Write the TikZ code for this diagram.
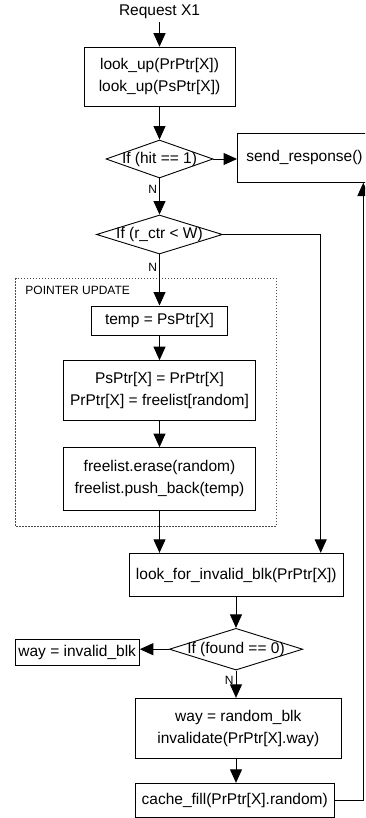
\documentclass[tikz,border=0pt]{standalone}
\usepackage{fontspec}
\setmainfont{Liberation Sans}
\usetikzlibrary{calc,arrows.meta,shapes.geometric}
\tikzset{
  blk/.style={draw, rectangle, align=center, inner sep=2pt},
  dec/.style={draw, diamond, inner sep=0pt},
  arr/.style={-{Triangle[length=13.5pt,width=12pt]}},
  lbl/.style={font=\fontsize{12}{14}\selectfont, inner sep=2pt},
  grp/.style={draw=black!70, dash pattern=on 1.5pt off 1.5pt, line width=0.8pt}
}
\begin{document}
\begin{tikzpicture}[x=1pt,y=-1pt,line width=0.9pt,font=\fontsize{15.5}{22}\selectfont]
\clip (0,0) rectangle (365,818);
\node (req) at (159.5,11.7) {Request X1};
\node[blk,minimum width=151pt,minimum height=59pt] (lookup) at (159.5,76.7) {look\_up(PrPtr[X])\\look\_up(PsPtr[X])};
\node[dec,minimum width=107pt,minimum height=38pt,label={center:{If (hit == 1)}}] (hit) at (159.5,159) {};
\node[blk,minimum width=134pt,minimum height=49pt] (send) at (304.5,157.8) {send\_response()};
\node[dec,minimum width=126pt,minimum height=39pt,label={center:{If (r\_ctr < W)}}] (rctr) at (159.5,234.5) {};
\draw[grp] (15.7,278.3) rectangle (276,526.7);
\node[lbl,anchor=west,inner sep=0pt] (grplbl) at (25,290.7) {POINTER UPDATE};
\node[blk,minimum width=135.6pt,minimum height=29.7pt] (temp) at (159.5,320.8) {temp = PsPtr[X]};
\node[blk,minimum width=191.6pt,minimum height=59.3pt] (swap) at (159.5,390.3) {PsPtr[X] = PrPtr[X]\\PrPtr[X] = freelist[random]};
\node[blk,minimum width=191.6pt,minimum height=62.3pt] (freel) at (159.5,478.8) {freelist.erase(random)\\freelist.push\_back(temp)};
\node[blk,minimum width=214pt,minimum height=43.4pt] (inval) at (236.3,575) {look\_for\_invalid\_blk(PrPtr[X])};
\node[dec,minimum width=133.4pt,minimum height=41.7pt,label={center:{If (found == 0)}}] (found) at (236,649.2) {};
\node[blk,minimum width=124.3pt,minimum height=26pt] (wayinv) at (77.2,652.5) {way = invalid\_blk};
\node[blk,minimum width=206.7pt,minimum height=60pt] (rand) at (238.3,728.3) {way = random\_blk\\invalidate(PrPtr[X].way)};
\node[blk,minimum width=199.3pt,minimum height=34pt] (cache) at (234.7,800.3) {cache\_fill(PrPtr[X].random)};
\coordinate (rj) at (320.7,0);
\coordinate (sj) at (363.3,0);
\draw[arr] (req) -- (lookup);
\draw[arr] (lookup) -- (hit);
\draw[arr] (hit.east) -- (hit.east -| send.west);
\draw[arr] (hit) -- node[lbl,left,pos=0.3] {N} (rctr);
\draw[arr] (rctr) -- node[lbl,left,pos=0.25] {N} (temp);
\draw[arr] (temp) -- (swap);
\draw[arr] (swap) -- (freel);
\draw[arr] (freel) -- (freel |- inval.north);
\draw[arr] (rctr.east) -| (rj |- inval.north);
\draw[arr] (found.north |- inval.south) -- (found.north);
\draw[arr] (found.west) -- (found.west -| wayinv.east);
\draw[arr] (found.south) -- node[lbl,left,pos=0.35] {N} (found.south |- rand.north);
\draw[arr] (found.south |- rand.south) -- (found.south |- cache.north);
\draw[arr] (cache.east) -| (sj |- send.south);
\end{tikzpicture}
\end{document}
